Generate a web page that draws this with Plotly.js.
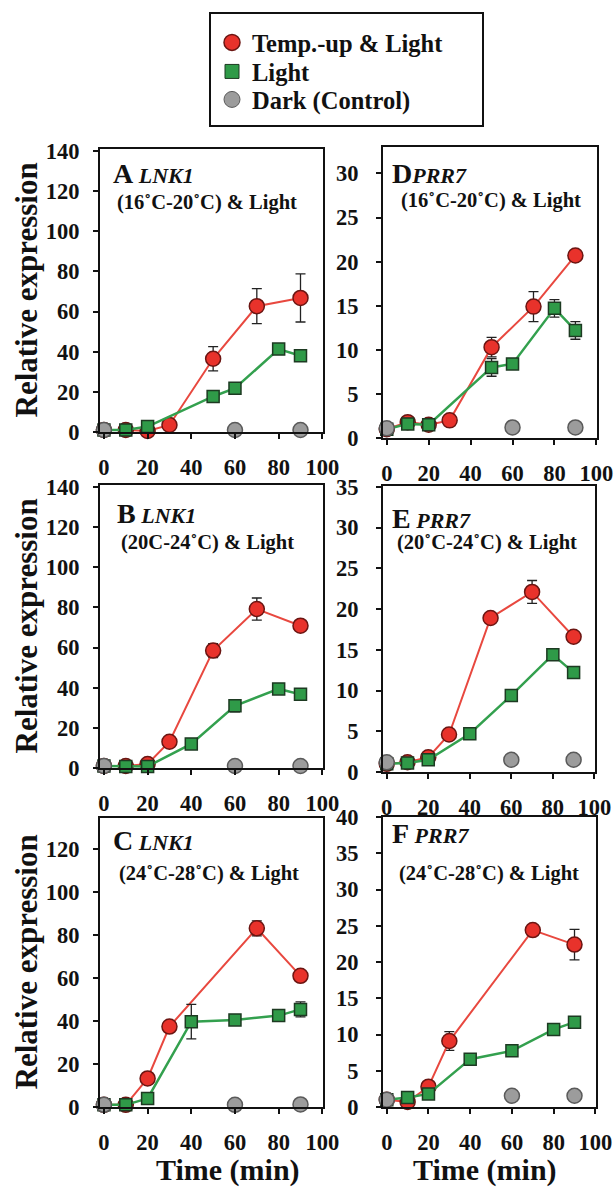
<!DOCTYPE html>
<html>
<head>
<meta charset="utf-8">
<script src="https://cdn.plot.ly/plotly-3.0.1.min.js"></script>
<style>html,body{margin:0;padding:0;background:#fff;}#chart{width:616px;height:1190px;}</style>
</head>
<body>
<div id="chart"></div>
<script>
// ---------------- DATA ----------------
const seriesNames = ['Temp.-up & Light', 'Light', 'Dark (Control)'];
const xTickVals = [0, 20, 40, 60, 80, 100];

const tRedABDE = [0, 10, 20, 30, 50, 70, 90];
const tRedCF = [0, 10, 20, 30, 70, 90];
const tGreenAD = [0, 10, 20, 50, 60, 80, 90];
const tGreenBCEF = [0, 10, 20, 40, 60, 80, 90];
const tDark = [0, 60, 90];

// A: LNK1 (16-20)
const redA = [1, 1, 0.5, 3.5, 36.5, 62.7, 66.8];
const redErrA = [0, 0, 0.5, 0.8, 6, 8.7, 12];
const greenA = [1, 1, 2.7, 17.7, 21.8, 41.3, 38];
const greenErrA = [0, 0.3, 0.5, 2, 2, 2.5, 2.5];
const darkA = [1, 1, 1];
// B: LNK1 (20-24)
const redB = [1, 1, 2, 13.1, 58.5, 79.2, 70.9];
const redErrB = [0, 0, 0.5, 1.5, 3.5, 5.5, 2];
const greenB = [1, 0.8, 0.8, 12, 31, 39.4, 36.7];
const greenErrB = [0, 0.3, 0.3, 2, 3, 1.5, 2];
const darkB = [1, 1, 1];
// C: LNK1 (24-28)
const redC = [1, 1, 13.3, 37.4, 83.1, 61];
const redErrC = [0, 0.3, 2.5, 1, 3.5, 2];
const greenC = [1, 1, 4, 39.7, 40.5, 42.5, 45.4];
const greenErrC = [0, 0.3, 1, 8, 1.5, 2, 3.5];
const darkC = [1, 1, 1.2];
// D: PRR7 (16-20)
const redD = [1, 1.8, 1.5, 2.0, 10.3, 14.9, 20.7];
const redErrD = [0, 0.2, 0.2, 0.3, 1.1, 1.7, 0.5];
const greenD = [1, 1.6, 1.5, 8.0, 8.4, 14.7, 12.2];
const greenErrD = [0, 0.3, 0.3, 1, 0.5, 1, 1];
const darkD = [1.1, 1.2, 1.2];
// E: PRR7 (20-24)
const redE = [1, 1.2, 1.8, 4.6, 18.9, 22.1, 16.6];
const redErrE = [0, 0.1, 0.2, 0.6, 0.5, 1.4, 0.6];
const greenE = [1, 1.1, 1.5, 4.7, 9.4, 14.4, 12.2];
const greenErrE = [0, 0.2, 0.2, 0.4, 0.5, 0.6, 0.6];
const darkE = [1.2, 1.5, 1.5];
// F: PRR7 (24-28)
const redF = [1, 0.7, 2.8, 9.1, 24.4, 22.4];
const redErrF = [0, 0.2, 0.4, 1.3, 0.5, 2.1];
const greenF = [1, 1.3, 1.8, 6.6, 7.75, 10.7, 11.7];
const greenErrF = [0, 0.3, 0.3, 0.5, 0.4, 0.5, 0.5];
const darkF = [1.0, 1.55, 1.55];

const panelLetters = ['A', 'D', 'B', 'E', 'C', 'F'];
const panelGenes = ['LNK1', 'PRR7', 'LNK1', 'PRR7', 'LNK1', 'PRR7'];
const panelConditions = [
  '(16˚C-20˚C) & Light', '(16˚C-20˚C) & Light',
  '(20C-24˚C) & Light', '(20˚C-24˚C) & Light',
  '(24˚C-28˚C) & Light', '(24˚C-28˚C) & Light'
];
const yTickStep = [20, 5, 20, 5, 20, 5];
const yMax = [141, 33, 141, 35.1, 134.4, 40];
const yTitle = 'Relative expression';
const xTitle = 'Time (min)';

const panelData = [
  {tr: tRedABDE, r: redA, re: redErrA, tg: tGreenAD, g: greenA, ge: greenErrA, d: darkA},
  {tr: tRedABDE, r: redD, re: redErrD, tg: tGreenAD, g: greenD, ge: greenErrD, d: darkD},
  {tr: tRedABDE, r: redB, re: redErrB, tg: tGreenBCEF, g: greenB, ge: greenErrB, d: darkB},
  {tr: tRedABDE, r: redE, re: redErrE, tg: tGreenBCEF, g: greenE, ge: greenErrE, d: darkE},
  {tr: tRedCF, r: redC, re: redErrC, tg: tGreenBCEF, g: greenC, ge: greenErrC, d: darkC},
  {tr: tRedCF, r: redF, re: redErrF, tg: tGreenBCEF, g: greenF, ge: greenErrF, d: darkF}
];

// ---------------- LAYOUT GEOMETRY (pixels) ----------------
const W = 616, H = 1190;
const px = p => p / W;
const py = p => 1 - p / H;
// [left, right, top, bottom]
const boxes = [
  [100, 323, 149, 432], [383, 597, 147, 438],
  [100, 323, 485, 768], [383, 595, 486, 772],
  [100, 323, 818, 1107], [383, 596, 817, 1107]
];
const letterOff = [[11, 24], [7, 26], [15, 28], [7, 32], [11, 22], [7, 16]];
const condOff = [[15, 53], [16, 53], [19, 57], [12, 56], [17, 55], [14, 56]];
const legendTops = [20, 49, 77];

const FONT = 'Liberation Serif, Times New Roman, serif';
const RED = '#e8322b', RED_LINE = '#e8483f', RED_EDGE = '#6b1512';
const GREEN = '#2f9a48', GREEN_LINE = '#33a04e', GREEN_EDGE = '#1d3a22';
const GRAY = '#9c9c9c', GRAY_EDGE = '#5a5a5a';

const traces = [];
const legendStyle = top => ({
  x: px(212), y: py(top), xanchor: 'left', yanchor: 'top',
  bgcolor: 'rgba(0,0,0,0)', borderwidth: 0,
  font: {family: FONT, size: 24.5, color: '#111', weight: 'bold'},
  itemclick: false
});
const layout = {
  width: W, height: H,
  margin: {l: 0, r: 0, t: 0, b: 0},
  paper_bgcolor: '#fff', plot_bgcolor: '#fff',
  font: {family: FONT, size: 22, color: '#111', weight: 'bold'},
  showlegend: true,
  legend: legendStyle(legendTops[0]),
  legend2: legendStyle(legendTops[1]),
  legend3: legendStyle(legendTops[2]),
  shapes: [{
    type: 'rect', xref: 'paper', yref: 'paper',
    x0: px(210), x1: px(483), y0: py(13), y1: py(126),
    line: {color: '#111', width: 2}, fillcolor: 'rgba(0,0,0,0)'
  }],
  annotations: []
};

panelData.forEach((pd, i) => {
  const n = i + 1;
  const xa = 'x' + (n === 1 ? '' : n), ya = 'y' + (n === 1 ? '' : n);
  const b = boxes[i];
  const errStyle = {type: 'data', visible: true, color: '#222', thickness: 1.3, width: 5};
  traces.push({
    x: pd.tr, y: pd.r, xaxis: xa, yaxis: ya, mode: 'lines+markers', showlegend: false,
    name: seriesNames[0], cliponaxis: false,
    error_y: Object.assign({array: pd.re}, errStyle),
    line: {color: RED_LINE, width: 2},
    marker: {symbol: 'circle', size: 15, color: RED, line: {color: RED_EDGE, width: 1.5}}
  });
  traces.push({
    x: pd.tg, y: pd.g, xaxis: xa, yaxis: ya, mode: 'lines+markers', showlegend: false,
    name: seriesNames[1], cliponaxis: false,
    error_y: Object.assign({array: pd.ge}, errStyle),
    line: {color: GREEN_LINE, width: 2.5},
    marker: {symbol: 'square', size: 12, color: GREEN, line: {color: GREEN_EDGE, width: 1.5}}
  });
  traces.push({
    x: tDark, y: pd.d, xaxis: xa, yaxis: ya, mode: 'markers', showlegend: false,
    name: seriesNames[2], cliponaxis: false,
    marker: {symbol: 'circle', size: 15, color: GRAY, line: {color: GRAY_EDGE, width: 1.5}}
  });

  const axCommon = {
    showline: true, mirror: true, linecolor: '#111', linewidth: 2,
    ticks: 'outside', ticklen: 5, tickwidth: 2, tickcolor: '#111',
    showgrid: false, zeroline: false, fixedrange: true,
    tickfont: {family: FONT, size: 22.5, color: '#111', weight: 'bold'}
  };
  layout['xaxis' + (n === 1 ? '' : n)] = Object.assign({}, axCommon, {
    domain: [px(b[0]), px(b[1])], anchor: ya,
    range: [-1.8, 100.3], tickvals: xTickVals, ticklabelstandoff: 9
  });
  layout['yaxis' + (n === 1 ? '' : n)] = Object.assign({}, axCommon, {
    domain: [py(b[3]), py(b[2])], anchor: xa,
    range: [0, yMax[i]], dtick: yTickStep[i], tick0: 0,
    ticklabelstandoff: i % 2 === 0 ? 9 : 13
  });

  const sep = panelLetters[i] === 'D' ? '' : ' ';
  layout.annotations.push({
    xref: xa + ' domain', yref: ya + ' domain', x: 0, y: 1,
    xanchor: 'left', yanchor: 'middle', showarrow: false,
    xshift: letterOff[i][0], yshift: -letterOff[i][1],
    text: '<span style="font-size:28px">' + panelLetters[i] + '</span>' + sep + '<i>' + panelGenes[i] + '</i>',
    font: {family: FONT, size: 22, color: '#111', weight: 'bold'}
  });
  layout.annotations.push({
    xref: xa + ' domain', yref: ya + ' domain', x: 0, y: 1,
    xanchor: 'left', yanchor: 'middle', showarrow: false,
    xshift: condOff[i][0], yshift: -condOff[i][1],
    text: panelConditions[i],
    font: {family: FONT, size: 20.5, color: '#111', weight: 'bold'}
  });
  if (i % 2 === 0) {
    layout.annotations.push({
      xref: 'paper', yref: 'paper', x: px(26), y: py((b[2] + b[3]) / 2),
      xanchor: 'center', yanchor: 'middle', showarrow: false, textangle: -90,
      text: yTitle, font: {family: FONT, size: 31, color: '#111', weight: 'bold'}
    });
  }
  if (i >= 4) {
    layout.annotations.push({
      xref: 'paper', yref: 'paper', x: px(i === 4 ? 228 : 485), y: py(1189),
      xanchor: 'center', yanchor: 'bottom', showarrow: false,
      text: xTitle, font: {family: FONT, size: 30, color: '#111', weight: 'bold'}
    });
  }
});

// legend-only traces, one per legend so their spacing matches the reference
traces.push({x: [null], y: [null], mode: 'markers', name: seriesNames[0], showlegend: true, legend: 'legend',
  marker: {symbol: 'circle', size: 16, color: RED, line: {color: RED_EDGE, width: 1.5}}});
traces.push({x: [null], y: [null], mode: 'markers', name: seriesNames[1], showlegend: true, legend: 'legend2',
  marker: {symbol: 'square', size: 14, color: GREEN, line: {color: GREEN_EDGE, width: 1}}});
traces.push({x: [null], y: [null], mode: 'markers', name: seriesNames[2], showlegend: true, legend: 'legend3',
  marker: {symbol: 'circle', size: 16, color: GRAY, line: {color: GRAY_EDGE, width: 1}}});

Plotly.newPlot('chart', traces, layout, {displayModeBar: false, staticPlot: true});
</script>
</body>
</html>
